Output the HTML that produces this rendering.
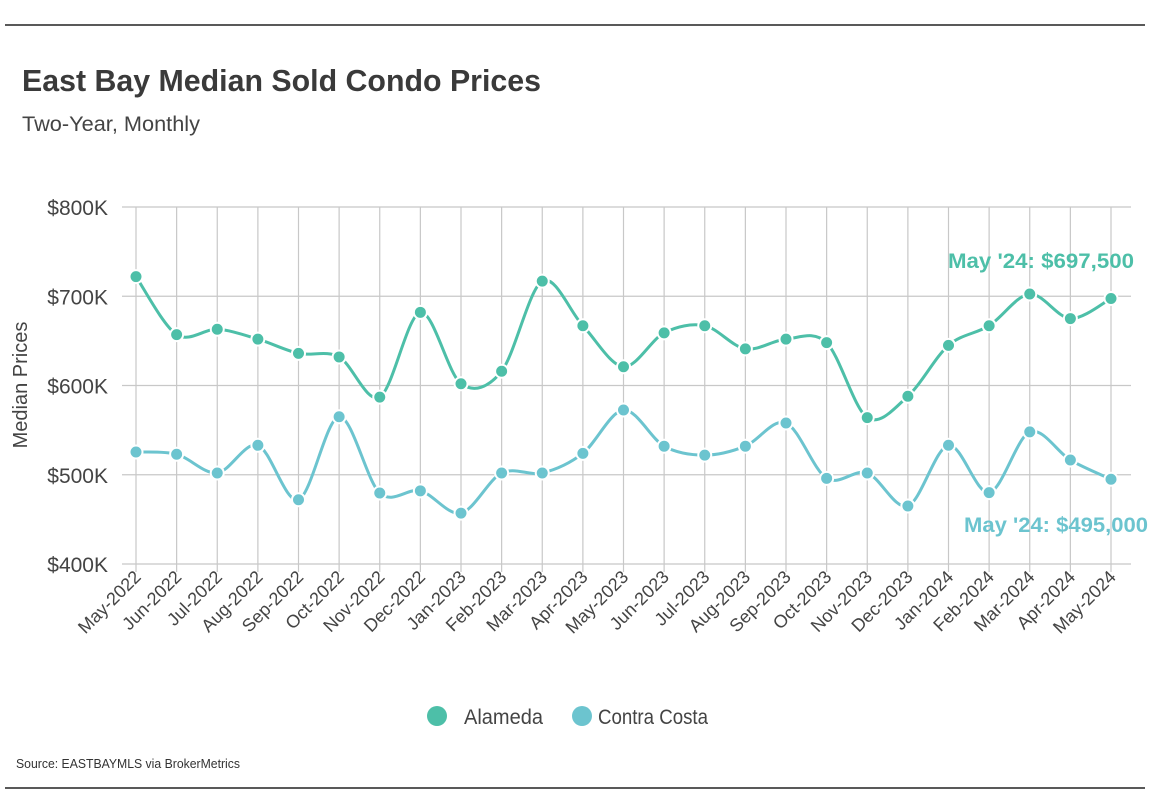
<!DOCTYPE html>
<html><head><meta charset="utf-8"><style>
body{margin:0;background:#fff;}
svg{display:block;font-family:"Liberation Sans Narrow","Liberation Sans",sans-serif;}
</style></head><body>
<svg id="c" width="1160" height="806" viewBox="0 0 1160 806">
<line x1="5" y1="25" x2="1145" y2="25" stroke="#222" stroke-width="1.5"/>
<line x1="5" y1="788" x2="1145" y2="788" stroke="#222" stroke-width="1.5"/>
<text x="22" y="91" font-size="31" font-weight="bold" fill="#3a3a3a" textLength="519" lengthAdjust="spacingAndGlyphs">East Bay Median Sold Condo Prices</text>
<text x="22" y="131" font-size="21" fill="#444" textLength="178" lengthAdjust="spacingAndGlyphs">Two-Year, Monthly</text>
<text transform="translate(27,385) rotate(-90)" text-anchor="middle" font-size="20" fill="#444">Median Prices</text>
<g id="grid"></g><g id="lines"></g><g id="marks"></g>
<text x="948" y="268" font-size="21" font-weight="bold" fill="#4dbfa8" textLength="186" lengthAdjust="spacingAndGlyphs">May '24: $697,500</text>
<text x="964" y="532" font-size="21" font-weight="bold" fill="#6cc4cf" textLength="184" lengthAdjust="spacingAndGlyphs">May '24: $495,000</text>
<g>
<circle cx="437" cy="716" r="10" fill="#4dbfa8"/>
<text x="464" y="724" font-size="21" fill="#444" textLength="79" lengthAdjust="spacingAndGlyphs">Alameda</text>
<circle cx="582" cy="716" r="10" fill="#6cc4cf"/>
<text x="598" y="724" font-size="21" fill="#444" textLength="110" lengthAdjust="spacingAndGlyphs">Contra Costa</text>
</g>
<text x="16" y="768" font-size="13" fill="#333" textLength="224" lengthAdjust="spacingAndGlyphs">Source:  EASTBAYMLS via BrokerMetrics</text>
</svg>
<script>
const categories=["May-2022","Jun-2022","Jul-2022","Aug-2022","Sep-2022","Oct-2022","Nov-2022","Dec-2022","Jan-2023","Feb-2023","Mar-2023","Apr-2023","May-2023","Jun-2023","Jul-2023","Aug-2023","Sep-2023","Oct-2023","Nov-2023","Dec-2023","Jan-2024","Feb-2024","Mar-2024","Apr-2024","May-2024"];
const alameda=[722,657,663,652,636,632,587,682,602,616,717,667,621,659,667,641,652,648,564,588,645,667,702.5,675,697.5];
const contraCosta=[525.5,523,502,533,472,565,479.5,482,457,502,502,524,572.5,532,522,532,558,496,502,465,533,480,548,516.5,495];
const yTicks=[400,500,600,700,800];
const yTickLabels=["$400K","$500K","$600K","$700K","$800K"];
const NS="http://www.w3.org/2000/svg";
const x0=136,x1=1111,yTop=207,yBot=564;
const xs=i=>x0+(x1-x0)*i/(categories.length-1);
const ys=v=>yBot-(v-400)/400*(yBot-yTop);
function mk(t,a,p){const e=document.createElementNS(NS,t);for(const k in a)e.setAttribute(k,a[k]);p.appendChild(e);return e;}
const grid=document.getElementById('grid'),lines=document.getElementById('lines'),marks=document.getElementById('marks');
yTicks.forEach((v,i)=>{
 const l=mk('line',{x1:122,x2:1131,y1:ys(v),y2:ys(v),stroke:'#c8c8c8','stroke-width':1.2},grid);
 
 
 const t=mk('text',{x:108,y:ys(v)+8,'text-anchor':'end','font-size':21,fill:'#444'},grid);
 t.textContent=yTickLabels[i];
 
 
});
categories.forEach((c,i)=>{
 const l=mk('line',{x1:xs(i),x2:xs(i),y1:yTop,y2:yBot+8,stroke:'#c8c8c8','stroke-width':1.2},grid);
 
 
 const t=mk('text',{transform:`translate(${xs(i)+6},${yBot+14}) rotate(-45)`,'text-anchor':'end','font-size':18,fill:'#444'},grid);
 t.textContent=c;
 
 
});
function path(vals){
 const p=vals.map((v,i)=>[xs(i),ys(v)]);
 let d=`M${p[0][0]},${p[0][1]}`;
 for(let i=0;i<p.length-1;i++){
  const a=p[i-1]||p[i],b=p[i],c=p[i+1],e=p[i+2]||c;
  const k=0.16;
  d+=` C${b[0]+(c[0]-a[0])*k},${b[1]+(c[1]-a[1])*k} ${c[0]-(e[0]-b[0])*k},${c[1]-(e[1]-b[1])*k} ${c[0]},${c[1]}`;
 }
 return d;
}
[[alameda,'#4dbfa8','alameda'],[contraCosta,'#6cc4cf','contra-costa']].forEach(([vals,col,nm])=>{
 const l=mk('path',{d:path(vals),fill:'none',stroke:col,'stroke-width':3},lines);
 
 
 vals.forEach((v,i)=>{
  const c=mk('circle',{cx:xs(i),cy:ys(v),r:6.5,fill:col,stroke:'#fff','stroke-width':2},marks);
  
  
 });
});
</script>
</body></html>
